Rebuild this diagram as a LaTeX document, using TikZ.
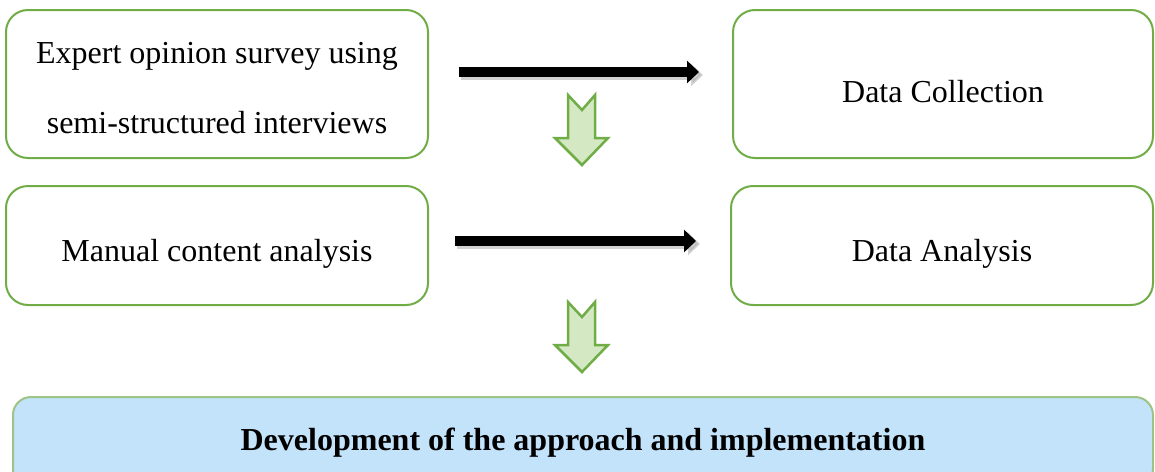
\documentclass[tikz,border=0pt]{standalone}
\usepackage{fontspec}
\setmainfont{Liberation Serif}
\usetikzlibrary{arrows.meta}
\definecolor{boxgreen}{HTML}{70AD47}
\definecolor{arrowfill}{HTML}{D5E8C4}
\definecolor{lightblue}{HTML}{C3E3FB}
\definecolor{paleborder}{HTML}{9DC484}
\tikzset{
  stagebox/.style={draw=boxgreen, line width=2pt, rounded corners=22pt, fill=white, inner sep=0pt},
  finalbox/.style={draw=paleborder, line width=2pt, rounded corners=18pt, fill=lightblue, inner sep=0pt},
  stagetext/.style={align=center, inner sep=0pt, font=\fontsize{32}{70}\selectfont},
  finaltext/.style={align=center, inner sep=0pt, font=\fontsize{32}{40}\selectfont\bfseries},
  flowarrow/.style={line width=9.5pt, black, -{Triangle[length=12pt,width=22pt]}},
  flowshadow/.style={line width=9.5pt, black!35, opacity=0.5, -{Triangle[length=12pt,width=22pt]}},
  downarrow/.style={draw=boxgreen, line width=2.5pt, fill=arrowfill, line join=miter}
}
\begin{document}
\begin{tikzpicture}[x=1pt,y=-1pt]
\useasboundingbox (0,0) rectangle (1155,471);
\node[stagebox, minimum width=422pt, minimum height=148pt] (b1) at (217,84) {};
\node[stagebox, minimum width=420pt, minimum height=148pt] (b2) at (943,84) {};
\node[stagebox, minimum width=422pt, minimum height=119pt] (b3) at (217,245.5) {};
\node[stagebox, minimum width=422pt, minimum height=119pt] (b4) at (942,245.5) {};
\node[finalbox, minimum width=1140pt, minimum height=90pt] (b5) at (583,442) {};
\node[stagetext, yshift=-4pt] (t1) at (b1.center) {Expert opinion survey using\\semi-structured interviews};
\node[stagetext, yshift=-8pt] (t2) at (b2.center) {Data Collection};
\node[stagetext, yshift=-8pt] (t3) at (b3.center) {Manual content analysis};
\node[stagetext, yshift=-8pt] (t4) at (b4.center) {Data Analysis};
\node[finaltext, yshift=-1pt] (t5) at (b5.center) {Development of the approach and implementation};
% black arrows with faint shadow
\draw[flowshadow, shorten <=30pt, shorten >=31pt] ([yshift=-3pt,xshift=2pt]b1.east |- 0,72) -- ([yshift=-3pt,xshift=2pt]b2.west |- 0,72);
\draw[flowarrow, shorten <=30pt, shorten >=33pt] (b1.east |- 0,72) coordinate (a1s) -- (b2.west |- 0,72) coordinate (a1e);
\draw[flowshadow, shorten <=26pt, shorten >=32pt] ([yshift=-3pt,xshift=2pt]b3.east |- 0,241) -- ([yshift=-3pt,xshift=2pt]b4.west |- 0,241);
\draw[flowarrow, shorten <=26pt, shorten >=34pt] (b3.east |- 0,241) coordinate (a2s) -- (b4.west |- 0,241) coordinate (a2e);
% green down arrows
\foreach \dy/\nm in {0/g1,207/g2}{
  \draw[downarrow] (568,95+\dy) coordinate (\nm) -- (582,110+\dy) -- (595,95+\dy) -- (595,138+\dy)
    -- (608,138+\dy) -- (582,165+\dy) -- (555,138+\dy) -- (568,138+\dy) -- cycle;
}
\end{tikzpicture}
\end{document}
